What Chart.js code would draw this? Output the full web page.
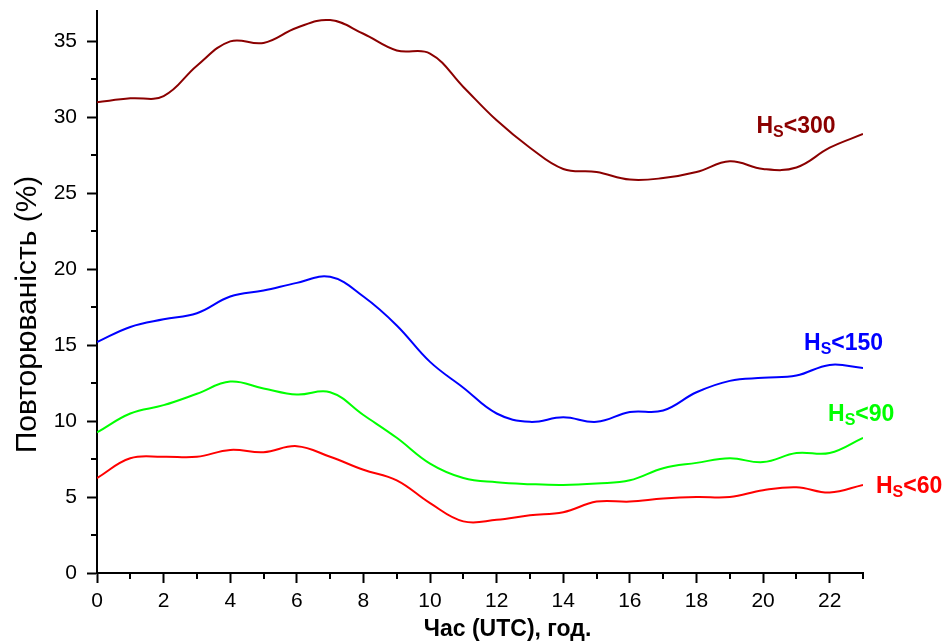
<!DOCTYPE html>
<html>
<head>
<meta charset="utf-8">
<script src="https://cdn.jsdelivr.net/npm/chart.js@4"></script>
<style>
  html, body { margin: 0; padding: 0; background: #fff; }
  #wrap { width: 947px; height: 642px; }
</style>
</head>
<body>
<div id="wrap"><canvas id="chart" width="947" height="642"></canvas></div>
<script>
const hours = [0, 1, 2, 3, 4, 5, 6, 7, 8, 9, 10, 11, 12, 13, 14, 15, 16, 17, 18, 19, 20, 21, 22, 23];

const hs300 = [31.0, 31.25, 31.4, 33.4, 35.0, 34.9, 35.9, 36.4, 35.5, 34.4, 34.2, 32.0, 29.8, 28.0, 26.6, 26.4, 25.9, 26.0, 26.4, 27.1, 26.6, 26.7, 28.0, 28.9];
const hs150 = [15.2, 16.2, 16.7, 17.1, 18.2, 18.6, 19.1, 19.5, 18.2, 16.3, 13.9, 12.2, 10.5, 9.95, 10.25, 9.95, 10.6, 10.7, 11.9, 12.65, 12.85, 13.0, 13.7, 13.5];
const hs90 = [9.25, 10.5, 11.05, 11.8, 12.6, 12.15, 11.75, 11.9, 10.4, 8.9, 7.2, 6.25, 5.97, 5.85, 5.8, 5.9, 6.1, 6.9, 7.25, 7.55, 7.3, 7.9, 7.9, 8.9];
const hs60 = [6.25, 7.55, 7.65, 7.65, 8.1, 7.95, 8.35, 7.65, 6.8, 6.1, 4.6, 3.4, 3.5, 3.8, 4.0, 4.7, 4.7, 4.9, 5.0, 5.0, 5.45, 5.65, 5.3, 5.8];

const seriesNames = ['300', '150', '90', '60'];
const seriesColors = ['#8b0000', '#0000ff', '#00ff00', '#ff0000'];
const seriesValues = [hs300, hs150, hs90, hs60];

const xTitle = 'Час (UTC), год.';
const yTitle = 'Повторюваність (%)';

// where each curve's label starts (hour, percent) -- baseline of the text
const labelAnchors = [[19.8, 28.95], [21.23, 14.7], [21.95, 10.0], [23.39, 5.28]];

const FONT = "'Liberation Sans', Arial, sans-serif";

const datasets = seriesValues.map((vals, i) => ({
    label: 'Hs<' + seriesNames[i],
    data: hours.map((h, j) => ({ x: h, y: vals[j] })),
    borderColor: seriesColors[i],
    borderWidth: 2,
    pointRadius: 0,
    fill: false,
    tension: 0.4
}));

// short minor tick marks on odd hours and at x.5 percents
const minorTicks = {
    id: 'minorTicks',
    afterDraw(chart) {
        const ctx = chart.ctx;
        const xs = chart.scales.x;
        const ys = chart.scales.y;
        ctx.save();
        ctx.strokeStyle = '#000';
        ctx.lineWidth = 2;
        ctx.beginPath();
        xs.ticks.forEach(t => {
            if (t.value % 2 !== 0) {
                const px = Math.round(xs.getPixelForValue(t.value));
                ctx.moveTo(px, xs.top);
                ctx.lineTo(px, xs.top + 6);
            }
        });
        ys.ticks.forEach(t => {
            if (t.value % 5 !== 0) {
                const py = Math.round(ys.getPixelForValue(t.value));
                ctx.moveTo(ys.right, py);
                ctx.lineTo(ys.right - 6, py);
            }
        });
        ctx.stroke();
        ctx.restore();
    }
};

// axis titles (placed a little off-centre, as in the original figure)
const axisTitles = {
    id: 'axisTitles',
    afterDraw(chart) {
        const ctx = chart.ctx;
        const area = chart.chartArea;
        ctx.save();
        ctx.fillStyle = '#000';
        ctx.textAlign = 'center';
        ctx.textBaseline = 'alphabetic';
        ctx.font = 'bold 23px ' + FONT;
        ctx.fillText(xTitle, area.left + area.width * 0.536, 636);
        ctx.translate(36, area.top + area.height * 0.54);
        ctx.rotate(-Math.PI / 2);
        ctx.font = '30px ' + FONT;
        ctx.fillText(yTitle, 0, 0);
        ctx.restore();
    }
};

// "H_S<nnn" labels next to the curves
const curveLabels = {
    id: 'curveLabels',
    afterDatasetsDraw(chart) {
        const ctx = chart.ctx;
        const xs = chart.scales.x;
        const ys = chart.scales.y;
        ctx.save();
        ctx.textBaseline = 'alphabetic';
        ctx.textAlign = 'left';
        labelAnchors.forEach((a, i) => {
            let px = xs.getPixelForValue(a[0]);
            const py = ys.getPixelForValue(a[1]);
            ctx.fillStyle = seriesColors[i];
            ctx.font = 'bold 23px ' + FONT;
            ctx.fillText('H', px, py);
            px += ctx.measureText('H').width;
            ctx.font = 'bold 16px ' + FONT;
            ctx.fillText('S', px, py + 4);
            px += ctx.measureText('S').width;
            ctx.font = 'bold 23px ' + FONT;
            ctx.fillText('<' + seriesNames[i], px, py);
        });
        ctx.restore();
    }
};

new Chart(document.getElementById('chart'), {
    type: 'line',
    data: { datasets },
    plugins: [minorTicks, curveLabels, axisTitles],
    options: {
        responsive: false,
        animation: false,
        layout: { padding: { left: 0, top: 11, right: 84, bottom: 0 } },
        plugins: {
            legend: { display: false },
            tooltip: { enabled: false }
        },
        scales: {
            x: {
                type: 'linear',
                min: 0,
                max: 23,
                afterFit: s => { s.height = 69; s.paddingLeft = 0; s.paddingRight = 0; },
                border: { display: true, color: '#000', width: 2 },
                grid: {
                    drawOnChartArea: false,
                    tickLength: 10,
                    tickWidth: 2,
                    tickColor: c => (c.tick && c.tick.value % 2 === 0) ? '#000' : 'rgba(0,0,0,0)'
                },
                ticks: {
                    stepSize: 1,
                    autoSkip: false,
                    maxRotation: 0,
                    padding: 6,
                    color: '#000',
                    font: { family: FONT, size: 21 },
                    callback: v => v % 2 === 0 ? v : ''
                }
            },
            y: {
                min: 0,
                max: 37,
                afterFit: s => { s.width = 97; s.paddingTop = 0; s.paddingBottom = 0; },
                border: { display: true, color: '#000', width: 2 },
                grid: {
                    drawOnChartArea: false,
                    tickLength: 10,
                    tickWidth: 2,
                    tickColor: c => (c.tick && c.tick.value % 5 === 0) ? '#000' : 'rgba(0,0,0,0)'
                },
                ticks: {
                    stepSize: 2.5,
                    includeBounds: false,
                    autoSkip: false,
                    padding: 10,
                    color: '#000',
                    font: { family: FONT, size: 21 },
                    callback: v => v % 5 === 0 ? v : ''
                }
            }
        }
    }
});
</script>
</body>
</html>
